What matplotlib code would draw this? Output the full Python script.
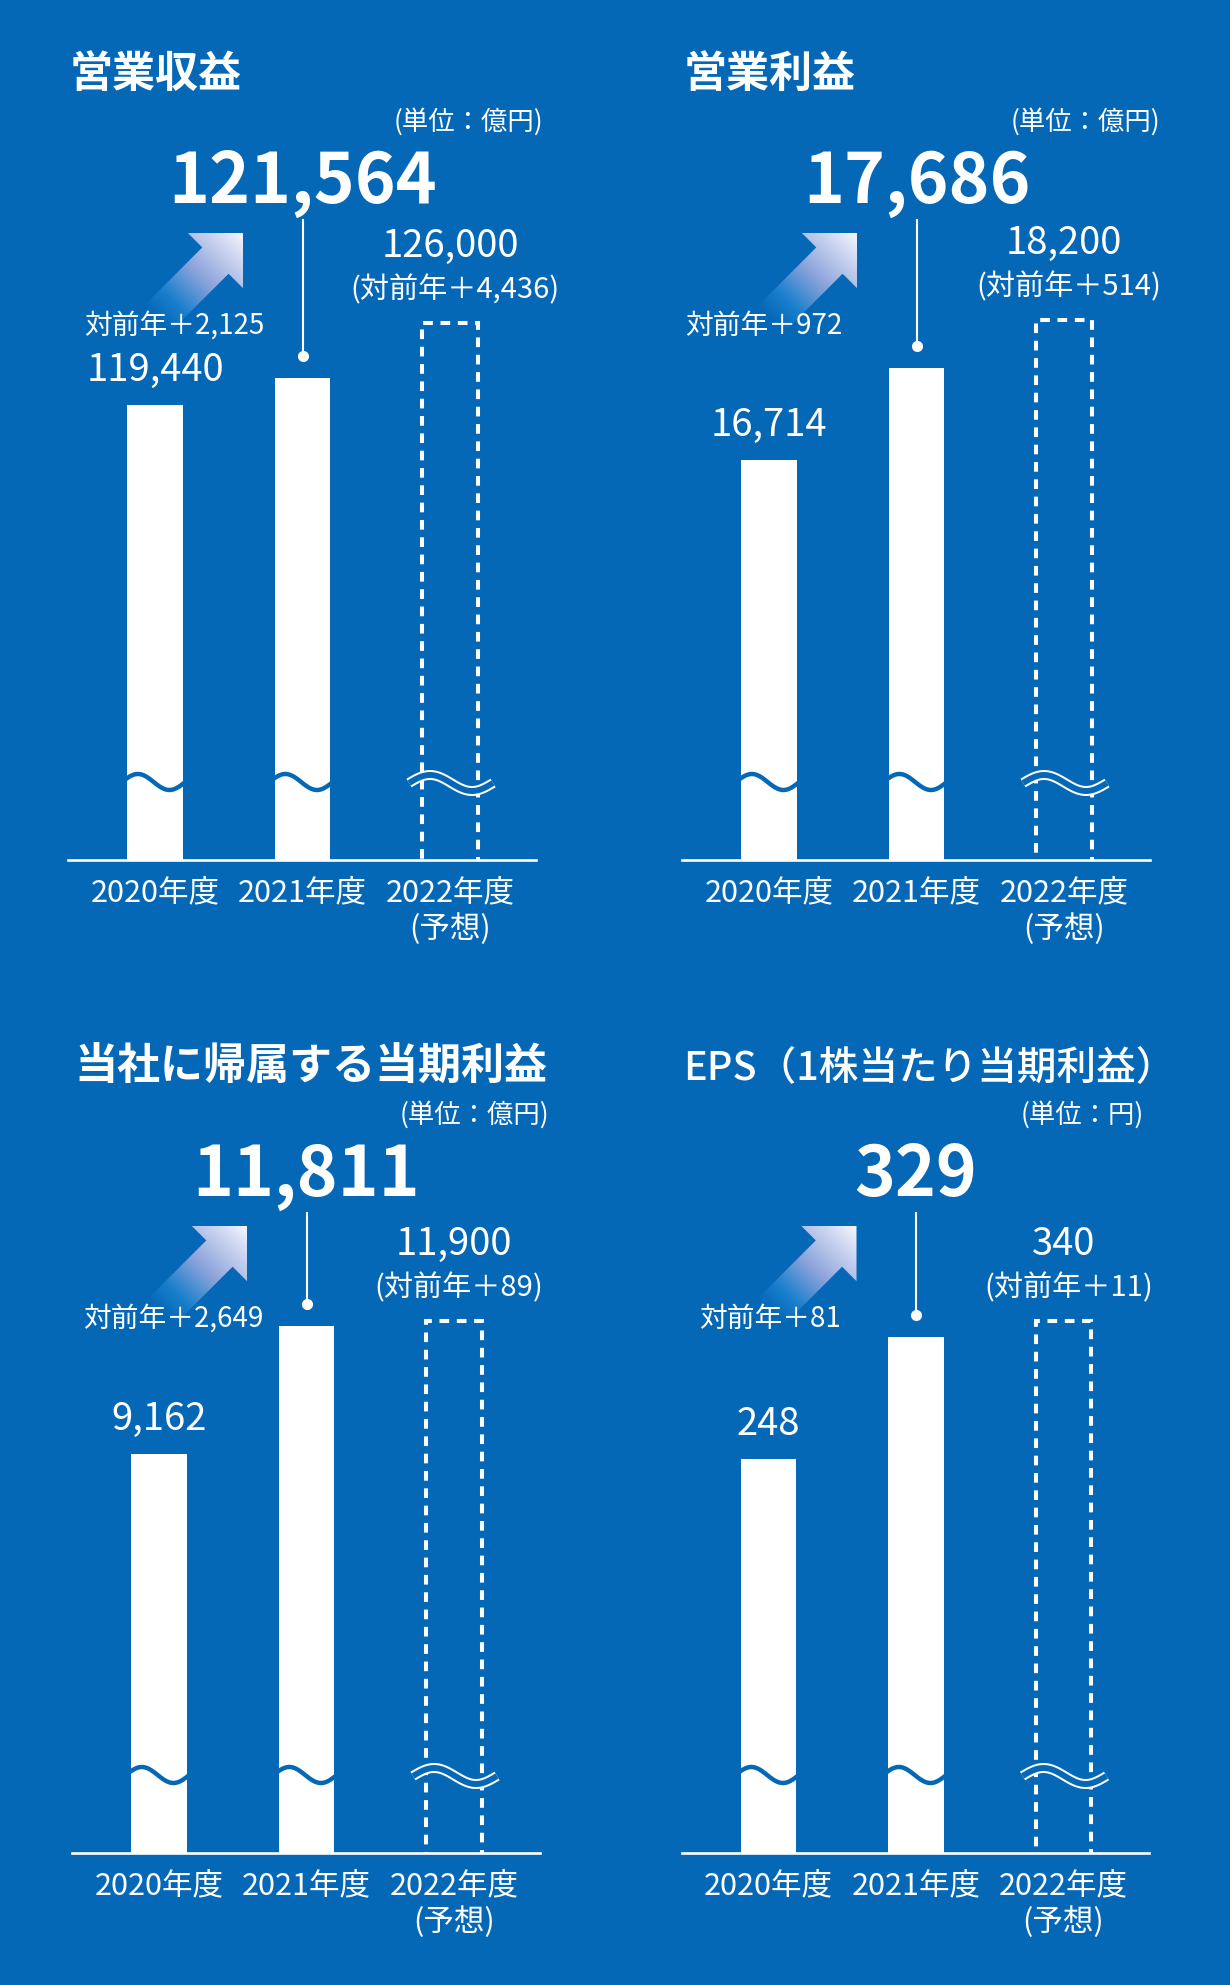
import numpy as np
import matplotlib.pyplot as plt
from matplotlib.colors import to_rgb
from matplotlib.patches import Polygon

plt.rcParams['font.family'] = ['Noto Sans CJK JP', 'DejaVu Sans']

BG = '#0568b7'
W, H = 1230, 1985

# --- data ---
years = ['2020年度', '2021年度', '2022年度\n(予想)']
titles = ['営業収益', '営業利益', '当社に帰属する当期利益', 'EPS（1株当たり当期利益）']
units = ['(単位：億円)', '(単位：億円)', '(単位：億円)', '(単位：円)']
actual_2020 = [119440, 16714, 9162, 248]
actual_2021 = [121564, 17686, 11811, 329]
forecast_2022 = [126000, 18200, 11900, 340]
yoy_2021 = ['＋2,125', '＋972', '＋2,649', '＋81']
yoy_2022 = ['＋4,436', '＋514', '＋89', '＋11']
# broken value axis (floor, top) for each panel
y_limits = [(82940, 134250), (12440, 19270), (940, 14130), (-15, 412)]

# --- layout (pixels) ---
origins = [(68, 860), (682, 860), (72, 1853), (681.5, 1853)]   # baseline left / y
yoy_left = [16, 3, 11, 17.5]
unit_right = [475, 478, 477, 462.5]
title_size = [31, 31, 31, 28.5]
title_weight = ['bold', 'bold', 'bold', 'medium']
AX_W, AX_H = 467.6, 640
XLIM = (-0.59, 2.58)
BAR_W = 0.376

fig = plt.figure(figsize=(W / 100, H / 100), dpi=100, facecolor=BG)

# pixel overlay for the decorative arrows (drawn below the panels)
ov = fig.add_axes([0, 0, 1, 1], zorder=0)
ov.patch.set_visible(False)
ov.axis('off')


def draw_arrow(tx, ty):
    d = np.array([1, -1]) / np.sqrt(2)
    p = np.array([1, 1]) / np.sqrt(2)
    uv = [(0, 0), (-39, -39), (-39, -18.6), (-122, -18.6),
          (-122, 18.6), (-39, 18.6), (-39, 39)]
    pts = np.array([(tx + u * d[0] + v * p[0], ty + u * d[1] + v * p[1]) for u, v in uv])
    poly = Polygon(pts, closed=True, facecolor='none', edgecolor='none')
    ov.add_patch(poly)
    x0, x1 = pts[:, 0].min(), pts[:, 0].max()
    y0, y1 = pts[:, 1].min(), pts[:, 1].max()
    gx, gy = np.meshgrid(np.linspace(x0, x1, 200), np.linspace(y0, y1, 200))
    u = (gx - tx) * d[0] + (gy - ty) * d[1]
    f = np.clip((u + 122) / 122, 0, 1)
    stops = [0, 0.2, 0.5, 1]
    bg = to_rgb(BG)
    r = np.interp(f, stops, [bg[0], 0.10, 0.55, 0.97])
    g = np.interp(f, stops, [bg[1], 0.50, 0.64, 0.97])
    b = np.interp(f, stops, [bg[2], 0.80, 0.86, 1.00])
    img = ov.imshow(np.dstack([r, g, b]), extent=(x0, x1, y1, y0), origin='upper',
                    interpolation='bilinear', aspect='auto', zorder=2)
    img.set_clip_path(poly)


for k in range(4):
    L, B = origins[k]
    ax = fig.add_axes([L / W, (H - B) / H, AX_W / W, AX_H / H], zorder=1)
    ax.patch.set_visible(False)
    y0, y1 = y_limits[k]
    ax.set_xlim(*XLIM)
    ax.set_ylim(y0, y1)
    per_px = (y1 - y0) / AX_H
    x_per_px = (XLIM[1] - XLIM[0]) / AX_W

    solid = np.array([actual_2020[k], actual_2021[k]])
    ax.bar([0, 1], solid - y0, bottom=y0, width=BAR_W, color='white', zorder=2)
    # forecast box: start below the floor so its bottom edge is clipped away
    low = y0 - 20 * per_px
    ax.bar([2], [forecast_2022[k] - low], bottom=low, width=BAR_W, fill=False,
           edgecolor='white', linewidth=2.9, linestyle=(0, (2.4, 1.9)), zorder=2)

    # break marks
    t = np.linspace(-0.03, 1.03, 60)
    for i in (0, 1):
        ax.plot(i - BAR_W / 2 + t * BAR_W,
                y0 + (78 + 8 * np.cos(2 * np.pi * (t - 0.19) / 1.14)) * per_px,
                color=BG, lw=3.2, solid_capstyle='butt', zorder=3)
    uu = np.linspace(0, 1, 80)
    wx = 2 + (-41 + 84 * uu) * x_per_px
    wy = y0 + (77 + 8 * np.sin(2 * np.pi * uu)) * per_px
    ax.plot(wx, wy, color='white', lw=7.2, solid_capstyle='butt', zorder=4)
    ax.plot(wx, wy, color=BG, lw=4.3, solid_capstyle='butt', zorder=5)

    # leader line for the current year
    dot_y = actual_2021[k] + 22 * per_px
    ax.plot([1, 1], [dot_y, y1], color='white', lw=1.5, zorder=3, clip_on=False)
    ax.plot([1], [dot_y], 'o', color='white', ms=7, zorder=3, clip_on=False)

    txt = dict(color='white', annotation_clip=False)
    ax.annotate(f'{actual_2021[k]:,}', xy=(1, y1), xytext=(0, 17), textcoords='offset pixels',
                ha='center', va='baseline', fontsize=50, fontweight='bold', **txt)
    ax.annotate(f'{actual_2020[k]:,}', xy=(0, actual_2020[k]), xytext=(0, 24),
                textcoords='offset pixels', ha='center', va='baseline', fontsize=27.5, **txt)
    ax.annotate(f'{forecast_2022[k]:,}', xy=(2, forecast_2022[k]), xytext=(0, 66),
                textcoords='offset pixels', ha='center', va='baseline', fontsize=27.5, **txt)
    ax.annotate(f'(対前年{yoy_2022[k]})', xy=(2, forecast_2022[k]), xytext=(5, 25),
                textcoords='offset pixels', ha='center', va='baseline', fontsize=21, **txt)
    ax.annotate(f'対前年{yoy_2021[k]}', xy=(yoy_left[k], 526.5), xycoords='axes pixels',
                ha='left', va='baseline', fontsize=20, **txt)
    ax.annotate(titles[k], xy=(2, 773), xycoords='axes pixels', ha='left', va='baseline',
                fontsize=title_size[k], fontweight=title_weight[k], **txt)
    ax.annotate(units[k], xy=(unit_right[k], 730), xycoords='axes pixels', ha='right',
                va='baseline', fontsize=19, **txt)

    draw_arrow(L + 175, B - 627)

    for s in ('top', 'left', 'right'):
        ax.spines[s].set_visible(False)
    ax.spines['bottom'].set_color('white')
    ax.spines['bottom'].set_linewidth(1.9)
    ax.spines['bottom'].set_zorder(6)
    ax.set_yticks([])
    ax.set_xticks([0, 1, 2], years)
    ax.tick_params(axis='x', length=0, pad=12.5, labelsize=22, labelcolor='white')

ov.set_xlim(0, W)
ov.set_ylim(H, 0)

fig.savefig('out.png', dpi=100, facecolor=BG)
